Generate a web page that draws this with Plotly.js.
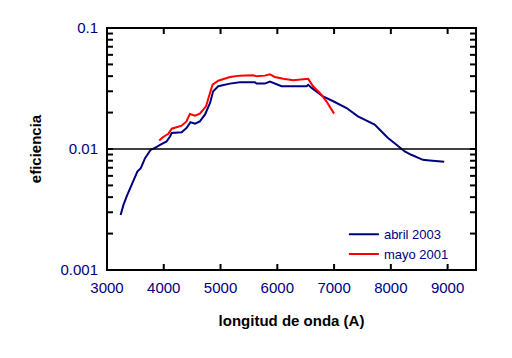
<!DOCTYPE html>
<html>
<head>
<meta charset="utf-8">
<script src="https://cdn.plot.ly/plotly-3.0.1.min.js"></script>
<style>html,body{margin:0;padding:0;background:#fff;}#chart{width:512px;height:358px;}</style>
</head>
<body>
<div id="chart"></div>
<script>
// abril 2003
const abrilX = [3240,3290,3350,3435,3535,3595,3670,3770,3845,3935,4050,4110,4140,4315,4400,4470,4550,4635,4725,4815,4870,4960,5165,5340,5605,5635,5780,5870,5955,6075,6515,6545,6605,6720,6805,6985,7220,7420,7715,7805,7950,8100,8245,8360,8565,8685,8940];
const abrilY = [0.00285,0.00345,0.0041,0.00506,0.00652,0.00695,0.0084,0.00986,0.0102,0.0108,0.01155,0.0127,0.01355,0.01377,0.0149,0.01665,0.0162,0.0169,0.0192,0.024,0.030,0.033,0.0347,0.0356,0.0356,0.0347,0.0347,0.0361,0.0347,0.033,0.033,0.0339,0.032,0.0291,0.0272,0.0248,0.0218,0.0186,0.0159,0.01443,0.01233,0.01084,0.00955,0.00896,0.00814,0.00803,0.00784];
// mayo 2001
const mayoX = [3920,3990,4080,4140,4315,4400,4460,4550,4635,4745,4795,4860,4960,5165,5340,5575,5635,5780,5870,5955,6105,6280,6545,6630,6750,6865,7000];
const mayoY = [0.01175,0.01256,0.01337,0.01472,0.01558,0.0169,0.01948,0.01886,0.01959,0.0225,0.0272,0.034,0.0367,0.0394,0.0404,0.0407,0.0399,0.0404,0.0414,0.0394,0.0380,0.0370,0.0380,0.033,0.0291,0.0248,0.0196];
const seriesNames = ['abril 2003', 'mayo 2001'];
const yTickVals = [0.001, 0.01, 0.1];
const yTickText = ['0.001', '0.01', '0.1'];
const yMinorVals = [0.002,0.003,0.004,0.005,0.006,0.007,0.008,0.009,0.02,0.03,0.04,0.05,0.06,0.07,0.08,0.09];
const xTickVals = [3000,4000,5000,6000,7000,8000,9000];

const FONT = 'Arial, "Liberation Sans", sans-serif';
const traces = [
  {x: abrilX, y: abrilY, name: seriesNames[0], mode: 'lines', line: {color: '#000080', width: 2}},
  {x: mayoX, y: mayoY, name: seriesNames[1], mode: 'lines', line: {color: '#ff0000', width: 2}}
];

// frame, reference line at 0.01 and tick marks (inside, mirrored) drawn as shapes
const tickStyle = {color: 'black', width: 2};
const shapes = [
  {type: 'rect', xref: 'paper', yref: 'paper', x0: 0, x1: 1, y0: 0, y1: 1, line: {color: 'black', width: 2}, fillcolor: 'rgba(0,0,0,0)'},
  {type: 'line', xref: 'paper', yref: 'y', x0: 0, x1: 1, y0: 0.01, y1: 0.01, line: {color: 'black', width: 1.3}}
];
xTickVals.forEach(function(v){
  shapes.push({type: 'line', xref: 'x', yref: 'paper', x0: v, x1: v, ysizemode: 'pixel', yanchor: 0, y0: 0, y1: 6, line: tickStyle});
  shapes.push({type: 'line', xref: 'x', yref: 'paper', x0: v, x1: v, ysizemode: 'pixel', yanchor: 1, y0: -6, y1: 0, line: tickStyle});
});
yTickVals.concat(yMinorVals).forEach(function(v){
  shapes.push({type: 'line', xref: 'paper', yref: 'y', y0: v, y1: v, xsizemode: 'pixel', xanchor: 0, x0: 0, x1: 6, line: tickStyle});
  shapes.push({type: 'line', xref: 'paper', yref: 'y', y0: v, y1: v, xsizemode: 'pixel', xanchor: 1, x0: -6, x1: 0, line: tickStyle});
});

const layout = {
  width: 512, height: 358,
  margin: {l: 107, r: 36, t: 28, b: 88},
  font: {family: FONT, size: 15, color: '#000080'},
  showlegend: true,
  legend: {x: 0.642, y: 0.21, xanchor: 'left', yanchor: 'top', bgcolor: 'rgba(0,0,0,0)',
           font: {family: FONT, size: 13, color: '#000080'}},
  xaxis: {
    range: [3000, 9500], tickmode: 'array', tickvals: xTickVals,
    showgrid: false, zeroline: false, showline: false,
    ticks: 'inside', ticklen: 6, tickwidth: 2, tickcolor: 'rgba(0,0,0,0)',
    ticklabelstandoff: 7,
    title: {text: 'longitud de onda (A)', font: {size: 15, color: '#000', weight: 'bold'}, standoff: 20}
  },
  yaxis: {
    type: 'log', range: [-3, -1], tickmode: 'array', tickvals: yTickVals, ticktext: yTickText,
    showgrid: false, zeroline: false, showline: false,
    ticks: 'inside', ticklen: 6, tickwidth: 2, tickcolor: 'rgba(0,0,0,0)',
    ticklabelstandoff: 8,
    title: {text: 'eficiencia', font: {size: 15, color: '#000', weight: 'bold'}, standoff: 15}
  },
  shapes: shapes
};
Plotly.newPlot('chart', traces, layout, {displayModeBar: false});
</script>
</body>
</html>
